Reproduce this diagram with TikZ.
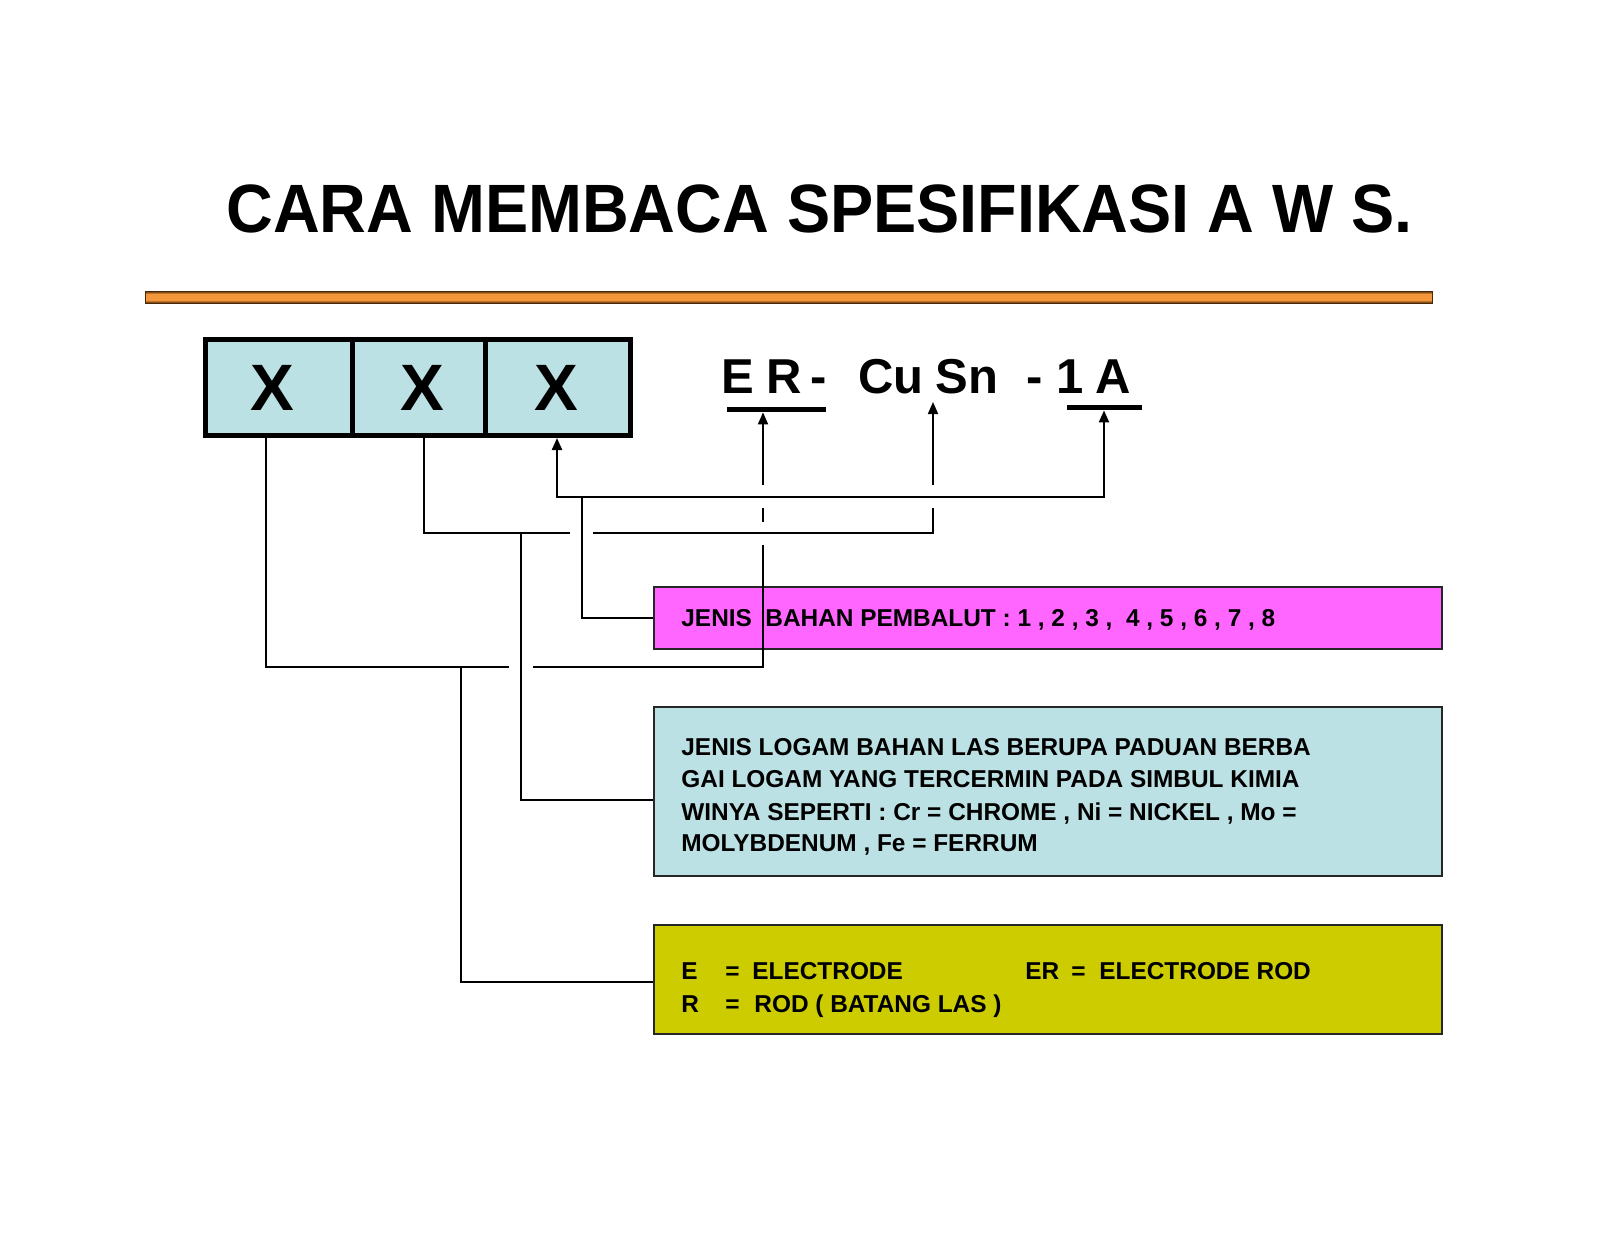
\documentclass[tikz,border=0pt]{standalone}
\usepackage{fontspec}
\setmainfont{Liberation Sans}
\newfontfamily\titlefont{Liberation Sans}[FakeStretch=0.946]
\usetikzlibrary{arrows.meta,calc}
\definecolor{boxblue}{HTML}{BCE1E5}
\definecolor{boxpink}{HTML}{FF66FF}
\definecolor{boxolive}{HTML}{CCCC00}
\definecolor{barorange}{HTML}{F4973A}
\definecolor{bardark}{HTML}{4A2806}
\begin{document}
\begin{tikzpicture}[x=0.5pt,y=-0.5pt,
  cell/.style={draw=black, line width=2.5pt, fill=boxblue, inner sep=0pt, minimum height=48pt},
  xletter/.style={inner sep=0pt, font=\bfseries\fontsize{32.8pt}{36pt}\selectfont},
  infobox/.style={draw=black!85, line width=0.75pt, inner sep=0pt, minimum width=394pt},
  boxtext/.style={anchor=base west, inner sep=0pt, font=\bfseries\fontsize{12.2pt}{14pt}\selectfont},
  codetext/.style={anchor=base west, inner sep=0pt, font=\bfseries\fontsize{24.5pt}{28pt}\selectfont},
  ulbar/.style={fill=black, inner sep=0pt, minimum height=2.5pt},
  conn/.style={line width=0.65pt, black},
  connthick/.style={line width=1.1pt, black},
  tip/.tip={Triangle[length=6pt,width=5pt]},
  connarrow/.style={line width=0.9pt, black, -tip}
]
\useasboundingbox (0,0) rectangle (1600,1237);
\fill[white] (0,0) rectangle (1600,1237);

% title
\node[anchor=base west, inner sep=0pt, font=\titlefont\bfseries\fontsize{34.2pt}{40pt}\selectfont]
  (title) at (226,232) {CARA MEMBACA SPESIFIKASI A W S.};

% orange bar
\fill[barorange] (145,291) rectangle (1432,303);
\shade[top color=bardark, bottom color=barorange] (145,291) rectangle (1432,294);
\shade[top color=barorange, bottom color=bardark] (145,300) rectangle (1432,303);
\draw[line width=0.4pt, bardark] (145,291) rectangle (1432,303);

% XXX cells
\node[cell, minimum width=73.25pt] (c1) at (278.75,387.5) {};
\node[cell, minimum width=66.5pt] (c2) at (418.5,387.5) {};
\node[cell, minimum width=72.75pt] (c3) at (557.75,387.5) {};
\node[xletter] (x1) at (272,387.5) {X};
\node[xletter] (x2) at (422,387.5) {X};
\node[xletter] (x3) at (556,387.5) {X};

% code text
\node[codetext] (tE) at (721.5,393) {E};
\node[codetext] (tR) at (766,393) {R};
\node[codetext] (tH1) at (810,393) {-};
\node[codetext] (tCu) at (858,393) {Cu};
\node[codetext] (tSn) at (935,393) {Sn};
\node[codetext] (tH2) at (1026,393) {-};
\node[codetext] (t1) at (1056,393) {1};
\node[codetext] (tA) at (1095,393) {A};
\node[ulbar, minimum width=49.5pt] (ul1) at (776.5,409.5) {};
\node[ulbar, minimum width=37.5pt] (ul2) at (1104.5,407.5) {};
\coordinate (cusn) at (933,402);

% info boxes
\node[infobox, fill=boxpink, minimum height=31pt] (pbox) at (1048,618) {};
\node[infobox, fill=boxblue, minimum height=84.5pt] (bbox) at (1048,791.5) {};
\node[infobox, fill=boxolive, minimum height=54.5pt] (ybox) at (1048,979.5) {};

\node[boxtext] (p1) at (681,626) {JENIS\ \ BAHAN PEMBALUT : 1 , 2 , 3 ,\ \ 4 , 5 , 6 , 7 , 8};

\node[boxtext] (b1) at (681,755) {JENIS LOGAM BAHAN LAS BERUPA PADUAN BERBA};
\node[boxtext] (b2) at (681,787) {GAI LOGAM YANG TERCERMIN PADA SIMBUL KIMIA};
\node[boxtext] (b3) at (681,820) {WINYA SEPERTI : Cr = CHROME , Ni = NICKEL , Mo =};
\node[boxtext] (b4) at (681,851) {MOLYBDENUM , Fe = FERRUM};

\node[boxtext] (y1) at (681,979) {E};
\node[boxtext] (y2) at (725,979) {=};
\node[boxtext] (y3) at (752,979) {ELECTRODE};
\node[boxtext] (y4) at (1025,979) {ER};
\node[boxtext] (y5) at (1071,979) {=};
\node[boxtext] (y6) at (1099,979) {ELECTRODE ROD};
\node[boxtext] (y7) at (681,1012) {R};
\node[boxtext] (y8) at (725,1012) {=};
\node[boxtext] (y9) at (754,1012) {ROD ( BATANG LAS )};

% connector coordinates
\coordinate (A1) at (266,667);
\coordinate (gA1) at (509,667);
\coordinate (gA2) at (533,667);
\coordinate (A2) at (763,667);
\coordinate (A3) at (763,545);
\coordinate (A4) at (763,522);
\coordinate (A5) at (763,508);
\coordinate (A6) at (763,485);
\coordinate (Ab) at (461,667);
\coordinate (Ac) at (461,982);

\coordinate (B1) at (424,533);
\coordinate (gB1) at (570,533);
\coordinate (gB2) at (593,533);
\coordinate (B2) at (933,533);
\coordinate (B3) at (933,508);
\coordinate (B4) at (933,485);
\coordinate (Bb) at (521,533);
\coordinate (Bc) at (521,800);

\coordinate (C1) at (1104,497);
\coordinate (C2) at (557,497);
\coordinate (Cb) at (582,497);
\coordinate (Cc) at (582,618);

% line A
\draw[conn] (c1.south -| A1) -- (A1) -- (gA1);
\draw[conn] (gA2) -- (A2) -- (A3);
\draw[conn] (A4) -- (A5);
\draw[connarrow] (A6) -- (ul1.south -| A6);
\draw[conn] (Ab) -- (Ac) -- (ybox.west |- Ac);

% line B
\draw[conn] (c2.south -| B1) -- (B1) -- (gB1);
\draw[conn] (gB2) -- (B2) -- (B3);
\draw[connarrow] (B4) -- (cusn);
\draw[conn] (Bb) -- (Bc) -- (bbox.west |- Bc);

% line C
\draw[connthick, tip-tip] (ul2.south -| C1) -- (C1) -- (C2) -- (c3.south -| C2);
\draw[conn] (Cb) -- (Cc) -- (pbox.west |- Cc);
\end{tikzpicture}
\end{document}
